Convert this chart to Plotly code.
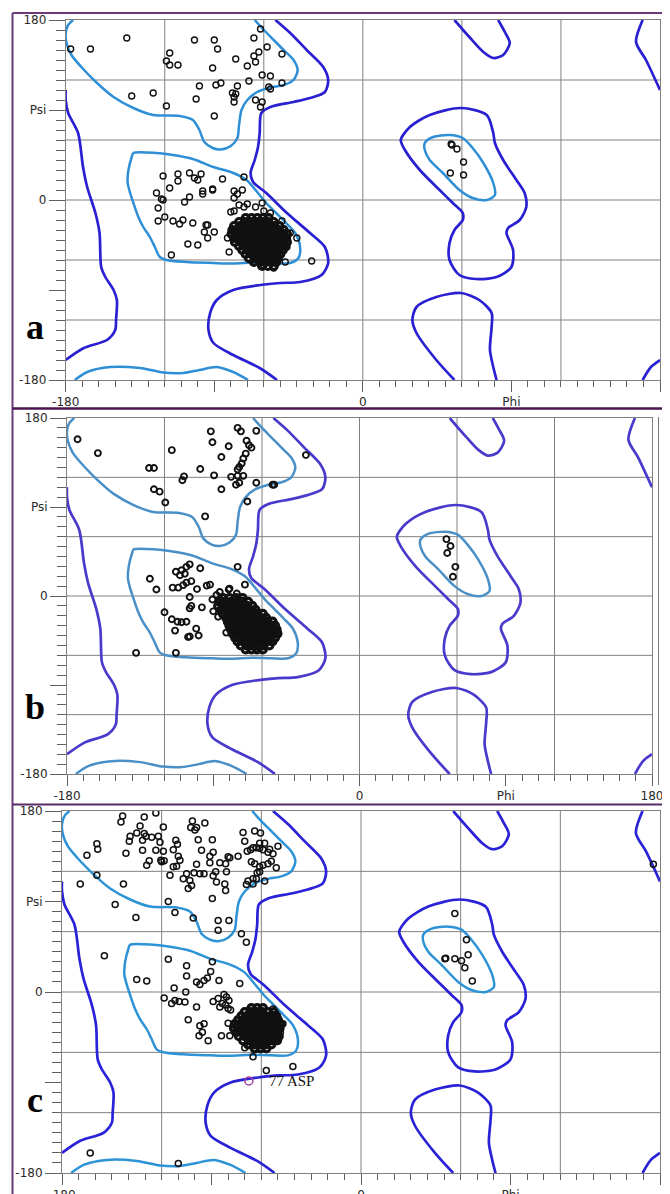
import plotly.graph_objects as go

# ------------------------------------------------------------------ data
X_TICK_VALS = [-180, -90, 0, 90, 180]
X_TICK_TEXT = ["-180", "", "0", "Phi", "180"]
Y_TICK_VALS = [-180, -90, 0, 90, 180]
Y_TICK_TEXT = ["-180", "", "0", "Psi", "180"]
GRID_VALS = [-120, -60, 0, 60, 120]
PANEL_LABELS = ["a", "b", "c"]

# contour lines (phi, psi) - identical in the three panels
DARK_LEFT = [(-180, 110), (-180, 100), (-178.5, 87), (-172.5, 67), (-169.5, 33), (-167, 13),
             (-162, -13), (-159.5, -33), (-158.5, -67), (-156, -77), (-151, -90), (-149, -100),
             (-149.5, -120), (-150, -130), (-155, -140), (-169, -148), (-180, -160)]
DARK_WRAP_TOP = [(169.5, 180), (165.5, 158), (171.5, 140), (180, 110)]
DARK_WRAP_BOT = [(169.5, -180), (174.5, -167), (180, -160)]
DARK_BETA_ALPHA = [(-53, 180), (-44, 167), (-34, 150), (-24, 133), (-21, 120), (-23, 108), (-32, 102),
                   (-42, 98), (-56, 93), (-61.5, 87), (-62.5, 67), (-63.5, 53), (-65.5, 40), (-68, 27),
                   (-66.5, 18), (-58.5, 7), (-46, -13), (-32, -33), (-23, -47), (-21, -63), (-25, -75),
                   (-38, -82), (-50, -83), (-62, -85), (-78.5, -90), (-88.5, -100), (-92.5, -113),
                   (-93.5, -130), (-90.5, -143), (-78.5, -155), (-62.5, -168), (-52, -180)]
DARK_GLY_TOP = [(55.5, 180), (64.5, 163), (73, 148), (79, 142), (85, 145), (89, 157), (86, 168), (82, 180)]
DARK_GLY_BOT = [(55.5, -180), (44.5, -160), (32.5, -133), (30, -120), (32.5, -107), (44.5, -97),
                (59.5, -93), (70.5, -100), (78, -113), (78, -127), (77, -150), (79, -167), (81, -180)]
DARK_LEFT_HANDED = [(23, 60), (28.5, 73), (40.5, 85), (59.5, 92), (75, 85), (79, 67), (80, 57), (85, 40),
                    (93, 20), (98, 7), (99, -7), (95, -20), (88, -28), (87, -33), (91, -50), (90, -67),
                    (81, -77), (68.5, -79), (58.5, -75), (52.5, -60), (52.5, -43), (55.5, -30),
                    (60.5, -20), (60.5, -13), (54.5, -3), (46.5, 10), (34.5, 30), (25.5, 50), (23, 60)]
LIGHT_BETA = [(-175.5, 180), (-178.5, 175), (-180, 167), (-179.5, 157), (-176.5, 145), (-170, 132),
              (-161, 117), (-151, 103), (-139, 92), (-127, 85), (-111, 84), (-103, 80), (-99, 70),
              (-96, 58), (-91, 52), (-86, 50.5), (-80, 54), (-76, 62), (-75, 75), (-73.5, 90),
              (-70, 100), (-64, 108), (-56, 112.5), (-48, 115), (-42, 120), (-39.5, 130), (-42, 140),
              (-48, 150), (-54, 160), (-60, 170), (-65.5, 180)]
LIGHT_BETA_BOT = [(-174.5, -180), (-167, -172), (-153, -167), (-135, -168), (-121, -172.5), (-109, -173),
                  (-99, -170), (-88.5, -167), (-78.5, -172), (-69.5, -180)]
LIGHT_ALPHA = [(-139, 47), (-125, 47), (-115, 45), (-103, 41), (-90.5, 33), (-78.5, 27), (-70.5, 20),
               (-63.5, 7), (-58.5, -3), (-52.5, -13), (-46.5, -23), (-41, -33), (-38, -47), (-39, -58),
               (-44, -63), (-54, -63), (-66.5, -62.5), (-78.5, -63.5), (-90.5, -63), (-107, -62),
               (-119, -60), (-123, -57), (-126, -47), (-129, -37), (-133, -27), (-136, -17), (-139, -3),
               (-141.5, 10), (-142.5, 18), (-142, 30), (-140, 43), (-139, 47)]
LIGHT_LEFT_HANDED = [(37.5, 57), (42.5, 63), (52.5, 65), (60.5, 62), (66.5, 52), (73, 37), (79, 17),
                     (80, 5), (75, 0), (66.5, 2), (58.5, 10), (48.5, 27), (40.5, 40), (37.5, 50), (37.5, 57)]

# residues, panel a
PTS_A = [(-177, 151), (-165, 151), (-143, 162), (-102, 160), (-90, 160), (-88, 151), (-117, 147), (-119, 139),
         (-117, 135), (-112, 135), (-91, 132), (-77, 141), (-70, 134), (-66, 162), (-62, 171), (-63, 148),
         (-58, 153), (-66, 144), (-65, 138), (-49, 146), (-61, 125), (-56, 124), (-69, 119), (-76, 114),
         (-86, 117), (-89, 115), (-99, 114), (-79, 107), (-78, 103), (-77, 106), (-78, 98), (-101, 101),
         (-57, 113), (-56, 111), (-49, 117), (-65, 100), (-61, 98), (-62, 93), (-127, 107), (-140, 104),
         (-119, 94), (-90, 84),
         (-121, 24), (-112, 26), (-105, 27), (-98, 26), (-102, 22), (-100, 20), (-112, 19), (-85, 21),
         (-72, 23), (-117, 12), (-125, 7), (-122, 1), (-121, 0), (-124, -8), (-108, -2), (-105, 3), (-97, 9),
         (-91, 11), (-97, 6), (-91, 10), (-78, 9), (-73, 10), (-76, 6), (-78, 2), (-75, -5), (-72, -7),
         (-70, -4), (-65, -7), (-80, -12), (-78, -11), (-120, -17), (-124, -21), (-115, -21), (-111, -24),
         (-109, -20), (-103, -23), (-94, -25), (-95, -25), (-96, -32), (-90, -32), (-94, -38), (-82, -38),
         (-81, -52), (-106, -44), (-100, -45), (-116, -55), (-49, -21), (-44, -33), (-40, -38), (-46, -47),
         (-47, -62), (-31, -61), (-61, -3), (-60, -11), (-56, -13), (-69, -59), (-65, -62), (-54, -68),
         (-53, -63), (-60, -65),
         (54, 55), (53.5, 56), (57, 51), (61, 38), (53, 27), (61, 25)]
# dense helix cluster, panel a: (psi, [phi, ...]) rows
CLUSTER_A = [(-18, [-71, -67.5, -64, -60.5, -57]),
             (-22, [-75, -71.5, -68, -64.5, -61, -57.5, -54]),
             (-26, [-78, -74.5, -71, -67.5, -64, -60.5, -57, -53.5, -50.5]),
             (-30, [-79, -75.5, -72, -68.5, -65, -61.5, -58, -54.5, -51, -48]),
             (-34, [-79.5, -76, -72.5, -69, -65.5, -62, -58.5, -55, -51.5, -48, -46]),
             (-38, [-78, -74.5, -71, -67.5, -64, -60.5, -57, -53.5, -50, -46.5]),
             (-42, [-77.5, -74, -70.5, -67, -63.5, -60, -56.5, -53, -49.5, -46]),
             (-46, [-75, -71.5, -68, -64.5, -61, -57.5, -54, -50.5, -47]),
             (-50, [-73, -69.5, -66, -62.5, -59, -55.5, -52, -48.5]),
             (-54, [-71, -67.5, -64, -60.5, -57, -53.5, -50]),
             (-58, [-69, -65.5, -62, -58.5, -55, -51.5]),
             (-62, [-66, -62.5, -59, -55.5, -52.5]),
             (-66, [-61, -57.5, -54])]

# residues, panel b
PTS_B = [(-173.5, 158.5), (-161, 144.5), (-115.5, 147.5), (-91.5, 166.5), (-75, 170), (-73, 166.5),
         (-63.5, 167), (-69.5, 157), (-68, 152.5), (-66.5, 150), (-80.5, 151.5), (-90.5, 155.5), (-85, 140.5),
         (-70, 144), (-71.5, 139), (-72.5, 134), (-74, 130.5), (-75, 128), (-129.5, 129.5), (-126.5, 129.5),
         (-98, 128.5), (-108, 121), (-109, 117), (-89.5, 122), (-79, 120.5), (-75, 121.5), (-71.5, 121.5),
         (-76, 112.5), (-74, 114.5), (-63.5, 114.5), (-53.5, 112.5), (-52.5, 112.5), (-85, 108),
         (-126.5, 108), (-123, 105.5), (-119.5, 94.5), (-69, 95.5), (-95, 80.5), (-33, 142.5),
         (-104.5, 32), (-106.5, 29.5), (-109.5, 26), (-113, 24.5), (-110.5, 21), (-107.5, 22.5), (-98, 28),
         (-75, 29.5), (-129, 17.5), (-125, 6.5), (-115, 8.5), (-111.5, 8.5), (-108.5, 11), (-106.5, 13.5),
         (-103.5, 15), (-100, 7), (-94, 10.5), (-92, 11.5), (-70.5, 11.5), (-80.5, 6.5), (-75.5, 2.5),
         (-86, 4), (-104.5, -1), (-103.5, -10), (-97, -11.5), (-104.5, -12.5), (-120, -16.5), (-115.5, -23.5),
         (-112, -26), (-109.5, -26.5), (-106.5, -26), (-100.5, -33), (-113.5, -35), (-104.5, -41),
         (-105.5, -41.5), (-99, -40), (-137.5, -57.5), (-113, -57.5), (-90.5, -3.5), (-88, 1), (-86, -3),
         (-84, -7.5), (-81.5, -16), (-90, -15.5), (-87, -21), (-82, -37), (-80.5, -29.5), (-80, 7.5),
         (-53, -46.5), (-52.5, -33), (-63.5, -53),
         (53.5, 57.5), (56, 50.5), (54, 43.5), (59, 29.5), (57.5, 19.5)]
CLUSTER_B = [(-2, [-84, -80, -76, -72]),
             (-6, [-86, -82.5, -79, -75.5, -72, -68.5]),
             (-10, [-87, -83.5, -80, -76.5, -73, -69.5, -66]),
             (-14, [-85, -81.5, -78, -74.5, -71, -67.5, -64]),
             (-18, [-84, -80.5, -77, -73.5, -70, -66.5, -63, -59.5]),
             (-22, [-82, -78.5, -75, -71.5, -68, -64.5, -61, -57.5]),
             (-26, [-81, -77.5, -74, -70.5, -67, -63.5, -60, -56.5, -53.5]),
             (-30, [-80, -76.5, -73, -69.5, -66, -62.5, -59, -55.5, -52]),
             (-34, [-79, -75.5, -72, -68.5, -65, -61.5, -58, -54.5, -51]),
             (-38, [-78, -74.5, -71, -67.5, -64, -60.5, -57, -53.5, -50.5]),
             (-42, [-76.5, -73, -69.5, -66, -62.5, -59, -55.5, -52]),
             (-46, [-75, -71.5, -68, -64.5, -61, -57.5, -54]),
             (-50, [-73, -69.5, -66, -62.5, -59, -55.5]),
             (-54, [-70, -66.5, -63, -59.5])]

# residues, panel c
PTS_C = [(-143.5, 175), (-144.5, 169), (-130.5, 174), (-123.5, 178), (-101.5, 170), (-102.5, 163.5),
         (-94, 168), (-119, 164), (-133, 165), (-139, 155), (-139.5, 150), (-135, 158), (-130.5, 157.5),
         (-129.5, 155), (-131.5, 151), (-126, 154), (-122, 155), (-121, 149), (-159, 147.5), (-158.5, 142),
         (-165, 136), (-141.5, 138), (-131.5, 141), (-123.5, 141), (-119, 140), (-111.5, 151), (-110.5, 147),
         (-113, 141.5), (-99, 163.5), (-100, 161), (-98, 151.5), (-89.5, 151.5), (-96, 141), (-89, 139),
         (-110, 135), (-109, 131), (-111, 125), (-113, 124.5), (-115, 116), (-120.5, 131), (-118.5, 130.5),
         (-120, 129.5), (-127.5, 130.5), (-129, 126), (-99, 127), (-91, 128.5), (-91, 135), (-85, 128.5),
         (-81.5, 127.5), (-79, 133.5), (-74, 135), (-100.5, 118.5), (-97, 117.5), (-94.5, 117.5),
         (-105, 117.5), (-107, 112.5), (-103, 111), (-102, 106), (-104, 103), (-87, 109.5), (-82, 107.5),
         (-89, 115.5), (-81, 119.5), (-87.5, 119.5), (-81.5, 101), (-89.5, 93), (-116, 90), (-112, 79),
         (-101, 73.5), (-86, 71), (-79.5, 71), (-86, 61.5), (-72, 58), (-69, 49.5), (-148, 87),
         (-135.5, 74), (-169, 107.5), (-143, 107.5), (-159, 116),
         (-71, 158.5), (-64, 160), (-60.5, 158), (-70, 150), (-61, 148), (-58, 148), (-65, 143.5),
         (-63, 143.5), (-61, 143), (-59, 141.5), (-68.5, 140), (-66.5, 141.5), (-55, 142), (-50, 145),
         (-53, 137.5), (-56, 139), (-80, 134.5), (-66, 129.5), (-64, 127.5), (-61, 124.5), (-59, 126),
         (-54, 130), (-51, 123.5), (-56, 127.5), (-61, 119.5), (-62.5, 118.5), (-65, 112.5), (-63, 112.5),
         (-58, 110.5), (-69, 107), (-68, 110.5), (-65, 107.5),
         (-154.5, 36), (-135, 12.5), (-129, 11), (-116, 32.5), (-105, 26), (-89.5, 30), (-105, 16),
         (-99, 10), (-97, 7.5), (-94.5, 11.5), (-92.5, 14), (-90.5, 20.5), (-85.5, 11.5), (-73, 8.5),
         (-112.5, 4), (-105.5, 0), (-118.5, -6), (-114, -11.5), (-112, -8.5), (-109.5, -9.5), (-106, -10),
         (-99, -15), (-89, -9.5), (-86, -6.5), (-82.5, -2.5), (-81, -5), (-79.5, -8.5), (-83.5, -11.5),
         (-85, -15), (-81.5, -13), (-80, -16.5), (-78.5, -18), (-104, -27.5), (-94.5, -31.5), (-97, -33.5),
         (-95.5, -40), (-97.5, -43.5), (-92, -48.5), (-84, -43.5), (-79, -43.5), (-80, -31),
         (-70, -55.5), (-65, -64.5), (-57, -78), (-41, -74), (-61, -20), (-53, -17), (-47, -31.5),
         (-48.5, -40), (-50, -46.5), (-163, -160), (-110, -170.5),
         (56.5, 78), (63.5, 52), (64.5, 37), (50.5, 33), (51, 33.5), (56.5, 33), (60.5, 31), (62.5, 24),
         (67, 11), (176, 127)]
CLUSTER_C = [(-16, [-66, -62.5, -59]),
             (-20, [-70, -66.5, -63, -59.5, -56, -52.5]),
             (-24, [-72, -68.5, -65, -61.5, -58, -54.5, -51]),
             (-28, [-74, -70.5, -67, -63.5, -60, -56.5, -53, -50]),
             (-32, [-76, -72.5, -69, -65.5, -62, -58.5, -55, -51.5, -48.5]),
             (-36, [-76.5, -73, -69.5, -66, -62.5, -59, -55.5, -52, -49]),
             (-40, [-75, -71.5, -68, -64.5, -61, -57.5, -54, -50.5]),
             (-44, [-73.5, -70, -66.5, -63, -59.5, -56, -52.5, -49.5]),
             (-48, [-71, -67.5, -64, -60.5, -57, -53.5, -50.5]),
             (-52, [-68, -64.5, -61, -57.5, -54]),
             (-56, [-64, -60.5, -57])]

OUTLIER_C = [(-67.5, -88.5)]
OUTLIER_LABEL = "77 ASP"

# ------------------------------------------------------------------ layout / style
OFF = 8                      # default body margin of the html page
W, H = 670 - OFF, 1194 - OFF
GRID_COLOR = "#808080"
TICK_COLOR = "#606060"


def px_x(v):
    return (v - OFF) / W


def px_y(v):
    return 1 - (v - OFF) / H


# pixel boxes of the three plot areas in the page (left, right, top, bottom)
BOXES = [(65.7, 660, 20, 380), (67, 652, 418, 774), (62, 660, 811, 1173)]
DARK = ["#2a20d2", "#4a3acb", "#2a22d6"]
LIGHT = ["#2f8fd6", "#4a8fc6", "#2e93d6"]
PT_LW = [1.4, 1.9, 1.5]
LABEL_Y = [327, 707, 1100]

PTS = [PTS_A, PTS_B, PTS_C]
CLUSTERS = [CLUSTER_A, CLUSTER_B, CLUSTER_C]

fig = go.Figure()


def unzip(pairs):
    return [p[0] for p in pairs], [p[1] for p in pairs]


shapes = []
annotations = []
for i in range(3):
    sfx = "" if i == 0 else str(i + 1)
    xr, yr = "x" + sfx, "y" + sfx
    left, right, top, bottom = BOXES[i]

    # grid lines through axis scales
    for v in GRID_VALS:
        shapes.append(dict(type="line", xref=xr, yref=yr + " domain", x0=v, x1=v, y0=0, y1=1,
                           line=dict(color=GRID_COLOR, width=1), layer="below"))
        shapes.append(dict(type="line", xref=xr + " domain", yref=yr, x0=0, x1=1, y0=v, y1=v,
                           line=dict(color=GRID_COLOR, width=1), layer="below"))

    for cont in [DARK_LEFT, DARK_WRAP_TOP, DARK_WRAP_BOT, DARK_BETA_ALPHA, DARK_GLY_TOP, DARK_GLY_BOT,
                 DARK_LEFT_HANDED]:
        cx, cy = unzip(cont)
        fig.add_trace(go.Scatter(x=cx, y=cy, mode="lines", xaxis=xr, yaxis=yr, hoverinfo="skip",
                                 line=dict(color=DARK[i], width=2.7, shape="spline", smoothing=0.8),
                                 showlegend=False))
    for cont in [LIGHT_BETA, LIGHT_BETA_BOT, LIGHT_ALPHA, LIGHT_LEFT_HANDED]:
        cx, cy = unzip(cont)
        fig.add_trace(go.Scatter(x=cx, y=cy, mode="lines", xaxis=xr, yaxis=yr, hoverinfo="skip",
                                 line=dict(color=LIGHT[i], width=2.5, shape="spline", smoothing=0.8),
                                 showlegend=False))

    px_, py_ = unzip(PTS[i])
    fig.add_trace(go.Scatter(x=px_, y=py_, mode="markers", xaxis=xr, yaxis=yr, showlegend=False,
                             marker=dict(symbol="circle-open", size=6, color="#111111",
                                         line=dict(width=PT_LW[i], color="#111111"))))
    cxs, cys = [], []
    for psi, phis in CLUSTERS[i]:
        for ph in phis:
            cxs.append(ph)
            cys.append(psi)
    fig.add_trace(go.Scatter(x=cxs, y=cys, mode="markers", xaxis=xr, yaxis=yr, showlegend=False,
                             marker=dict(symbol="circle-open", size=7, color="#111111",
                                         line=dict(width=3.2, color="#111111"))))

    axis_common = dict(range=[-180, 180], autorange=False, showgrid=False, zeroline=False,
                       showline=True, mirror=True, linecolor=GRID_COLOR, linewidth=1,
                       tickmode="array", ticks="outside", tickcolor=TICK_COLOR, tickwidth=1,
                       tickfont=dict(family="DejaVu Sans", size=12, color="#2a2a2a"),
                       automargin=False, fixedrange=True)
    fig.update_layout(**{
        "xaxis" + sfx: dict(axis_common, domain=[px_x(left), px_x(right)], anchor=yr,
                            tickvals=X_TICK_VALS, ticktext=X_TICK_TEXT, ticklen=11,
                            minor=dict(tickmode="linear", tick0=-180, dtick=10, ticks="outside",
                                       ticklen=6, tickcolor=TICK_COLOR, showgrid=False)),
        "yaxis" + sfx: dict(axis_common, domain=[px_y(bottom), px_y(top)], anchor=xr,
                            tickvals=Y_TICK_VALS, ticktext=Y_TICK_TEXT, ticklen=16,
                            minor=dict(tickmode="linear", tick0=-180, dtick=10, ticks="outside",
                                       ticklen=9, tickcolor=TICK_COLOR, showgrid=False)),
    })

    annotations.append(dict(text="<b>%s</b>" % PANEL_LABELS[i], xref="paper", yref="paper",
                            x=px_x(35), y=px_y(LABEL_Y[i]), xanchor="center", yanchor="middle",
                            showarrow=False, font=dict(family="Liberation Serif", size=36, color="#000000")))

# outlier in panel c
ox, oy = unzip(OUTLIER_C)
fig.add_trace(go.Scatter(x=ox, y=oy, mode="markers", xaxis="x3", yaxis="y3", showlegend=False,
                         marker=dict(symbol="circle-open", size=8, color="#a8449a",
                                     line=dict(width=1.5, color="#a8449a"))))
annotations.append(dict(text=OUTLIER_LABEL, xref="x3", yref="y3", x=OUTLIER_C[0][0] + 11,
                        y=OUTLIER_C[0][1], xanchor="left", yanchor="middle", showarrow=False,
                        font=dict(family="Liberation Serif", size=15, color="#111111")))

# page borders (purple frame around panels)
BORDER = "#6a3a78"
shapes += [
    dict(type="line", xref="paper", yref="paper", x0=px_x(12.5), x1=px_x(12.5), y0=0, y1=px_y(13),
         line=dict(color=BORDER, width=2)),
    dict(type="line", xref="paper", yref="paper", x0=px_x(12.5), x1=1, y0=px_y(13), y1=px_y(13),
         line=dict(color=BORDER, width=2)),
    dict(type="line", xref="paper", yref="paper", x0=px_x(12.5), x1=1, y0=px_y(408.5), y1=px_y(408.5),
         line=dict(color="#4a1450", width=2.5)),
    dict(type="line", xref="paper", yref="paper", x0=px_x(12.5), x1=1, y0=px_y(804.5), y1=px_y(804.5),
         line=dict(color="#5a2a68", width=2)),
    dict(type="line", xref="paper", yref="paper", x0=px_x(658.5), x1=px_x(658.5), y0=px_y(785),
         y1=px_y(417), line=dict(color="#7a7a7a", width=1)),
]

fig.update_layout(width=W, height=H, margin=dict(l=0, r=0, t=0, b=0), paper_bgcolor="white",
                  plot_bgcolor="white", shapes=shapes, annotations=annotations, showlegend=False)

fig.write_html("out.html")
